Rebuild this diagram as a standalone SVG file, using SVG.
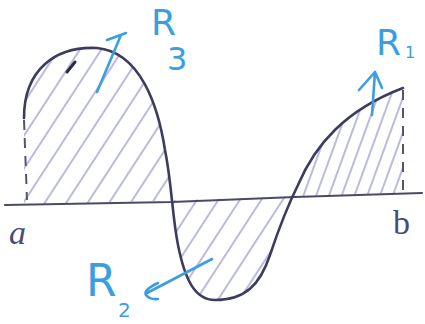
<svg xmlns="http://www.w3.org/2000/svg" width="425" height="324" viewBox="0 0 425 324">
<style>
.curve{fill:none;stroke:#3c3c5e;stroke-width:2.6;stroke-linecap:round;stroke-linejoin:round}
.axis{fill:none;stroke:#4a4a66;stroke-width:2.2;stroke-linecap:round}
.dash{fill:none;stroke:#55556a;stroke-width:2;stroke-dasharray:10 8}
.blue{fill:none;stroke:#3a9ee0;stroke-width:2.6;stroke-linecap:round;stroke-linejoin:round}
.lbl{font-family:"DejaVu Sans","Liberation Sans",sans-serif;fill:#3a9ee0}
.end{font-family:"Liberation Serif",serif;fill:#4a4a78}
</style>
<defs>
<pattern id="hatchL" width="18" height="18" patternUnits="userSpaceOnUse" patternTransform="rotate(33)">
<line x1="4" y1="0" x2="4" y2="18" stroke="#8c8cc8" stroke-width="1.2"/>
</pattern>
<pattern id="hatchR" width="12" height="12" patternUnits="userSpaceOnUse" patternTransform="rotate(20)">
<line x1="4" y1="0" x2="4" y2="12" stroke="#8c8cc8" stroke-width="1.2"/>
</pattern>
<clipPath id="lobes">
<path clip-rule="evenodd" d="M24,118 C24,70 55,46 97,48 C140,52 158,105 165,150 C172,185 172,215 178,245 C185,280 195,300 215,300 C245,300 260,285 270,255 C280,225 288,205 298,185 C315,145 345,110 403,88 L403,193 L24,205 Z"/>
</clipPath>
</defs>
<g id="hatching" clip-path="url(#lobes)">
<rect x="0" y="0" width="293" height="324" fill="url(#hatchL)"/>
<rect x="293" y="0" width="132" height="324" fill="url(#hatchR)"/>
</g>
<g id="axis">
<path class="axis" d="M5,205 L172,202 L295,197 L422,193"/>
<path class="dash" d="M24,120 L27,200"/>
<path class="dash" d="M403,90 L403,192"/>
</g>
<g id="curve">
<path class="curve" d="M24,118 C24,70 55,46 97,48 C140,52 158,105 165,150 C172,185 172,215 178,245 C185,280 195,300 215,300 C245,300 260,285 270,255 C280,225 288,205 298,185 C315,145 345,110 403,88"/>
<path d="M67,72 L75,62" stroke="#2a2a40" stroke-width="3" stroke-linecap="round"/>
</g>
<g id="connectors">
<path class="blue" d="M107,40 L126,33 M121,35 L97,92"/>
<path class="blue" d="M372,115 L375,72 M359,90 L375,72 L382,88"/>
<path class="blue" d="M212,259 L147,293 M158,283 Q143,290 146,295 Q150,300 158,299"/>
</g>
<g id="R3">
<text class="lbl" x="151" y="35" font-size="36">R</text>
<text class="lbl" x="167" y="70" font-size="32">3</text>
</g>
<g id="R1">
<text class="lbl" x="376" y="55" font-size="36">R</text>
<text class="lbl" x="405" y="58" font-size="16">1</text>
</g>
<g id="R2">
<text class="lbl" x="86" y="296" font-size="44">R</text>
<text class="lbl" x="118" y="317" font-size="20">2</text>
</g>
<g id="a">
<text class="end" x="9" y="244" font-size="34" font-style="italic">a</text>
</g>
<g id="b">
<text class="end" x="393" y="234" font-size="34" font-family="Liberation Sans, sans-serif">b</text>
</g>
</svg>
